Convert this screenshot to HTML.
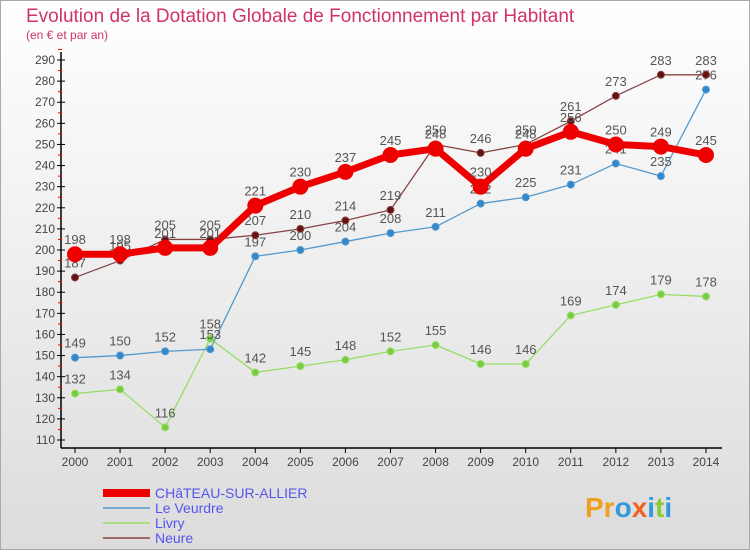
<!DOCTYPE html>
<html><head><meta charset="utf-8"><style>
body{margin:0;width:750px;height:550px;overflow:hidden;font-family:"Liberation Sans",sans-serif}
</style></head><body>
<svg width="750" height="550" xmlns="http://www.w3.org/2000/svg">
<defs><linearGradient id="bg" x1="0" y1="0" x2="0" y2="1"><stop offset="0" stop-color="#ffffff"/><stop offset="1" stop-color="#dcdcdc"/></linearGradient></defs>
<rect x="0.5" y="0.5" width="749" height="549" fill="url(#bg)" stroke="#aaa"/>
<text x="26" y="22" font-size="19" fill="#d0336a">Evolution de la Dotation Globale de Fonctionnement par Habitant</text>
<text x="26" y="39" font-size="12" fill="#d0336a">(en € et par an)</text>
<g id="axes"></g><g id="series"></g><g id="legend"></g>
<text x="585" y="517" font-size="28" font-weight="bold" fill="#f0a020">Pr<tspan fill="#3399dd">o</tspan><tspan fill="#f06020">x</tspan><tspan fill="#3399dd">i</tspan><tspan fill="#88cc33">t</tspan><tspan fill="#3399dd">i</tspan></text>
</svg>
<script>
const years=[2000,2001,2002,2003,2004,2005,2006,2007,2008,2009,2010,2011,2012,2013,2014];
const yTicks=[110,120,130,140,150,160,170,180,190,200,210,220,230,240,250,260,270,280,290];
const chateau=[198,198,201,201,221,230,237,245,248,230,248,256,250,249,245];
const veurdre=[149,150,152,153,197,200,204,208,211,222,225,231,241,235,276];
const livry=[132,134,116,158,142,145,148,152,155,146,146,169,174,179,178];
const neure=[187,195,205,205,207,210,214,219,250,246,250,261,273,283,283];
const NS="http://www.w3.org/2000/svg";
const X=i=>75+i*45.07, Y=v=>440-(v-110)*2.111;
function mk(t,a,p){const e=document.createElementNS(NS,t);for(const k in a)e.setAttribute(k,a[k]);p.appendChild(e);return e;}
const ax=document.getElementById('axes');
let l=mk('line',{x1:61,y1:52,x2:61,y2:448,stroke:'#000','stroke-width':1.5},ax);


l=mk('line',{x1:61,y1:448,x2:722,y2:448,stroke:'#000','stroke-width':1.5},ax);


yTicks.forEach(v=>{mk('line',{x1:57,y1:Y(v),x2:65,y2:Y(v),stroke:'#000'},ax);
mk('line',{x1:58,y1:Y(v+5),x2:62,y2:Y(v+5),stroke:'#e00'},ax);
const t=mk('text',{x:55,y:Y(v)+4,'font-size':12,'text-anchor':'end',fill:'#444'},ax);t.textContent=v;

});
years.forEach((y,i)=>{mk('line',{x1:X(i),y1:448,x2:X(i),y2:453,stroke:'#000'},ax);
const t=mk('text',{x:X(i),y:466,'font-size':12,'text-anchor':'middle',fill:'#444'},ax);t.textContent=y;

});
const sg=document.getElementById('series');
function series(d,col,w,r,name,fill){const g=mk('g',{},sg);


mk('polyline',{points:d.map((v,i)=>X(i)+','+Y(v)).join(' '),fill:'none',stroke:col,'stroke-width':w,'stroke-linejoin':'round'},g);
d.forEach((v,i)=>{const c=mk('circle',{cx:X(i),cy:Y(v),r:r,fill:fill,stroke:col,'stroke-width':1},g);


const t=mk('text',{x:X(i),y:Y(v)-10,'font-size':13,'text-anchor':'middle',fill:'#555'},g);t.textContent=v;

});}
series(livry,'#99dd66',1.3,3.5,'series-livry','#77cc44');
series(veurdre,'#5599cc',1.3,3.5,'series-le-veurdre','#3388cc');
series(neure,'#884444',1.3,3.5,'series-neure','#661111');
series(chateau,'#ee0000',7,7.5,'series-chateau','#ee0000');
const lg=document.getElementById('legend');
[['CHâTEAU-SUR-ALLIER','#ee0000',8],['Le Veurdre','#5599cc',1.5],['Livry','#99dd66',1.5],['Neure','#884444',1.5]].forEach((e,i)=>{
const y=493+i*15;const g=mk('g',{},lg);


mk('line',{x1:103,y1:y,x2:150,y2:y,stroke:e[1],'stroke-width':e[2]},g);
const t=mk('text',{x:155,y:y+5,'font-size':14,fill:'#5555ee'},g);t.textContent=e[0];});
</script>
</body></html>
